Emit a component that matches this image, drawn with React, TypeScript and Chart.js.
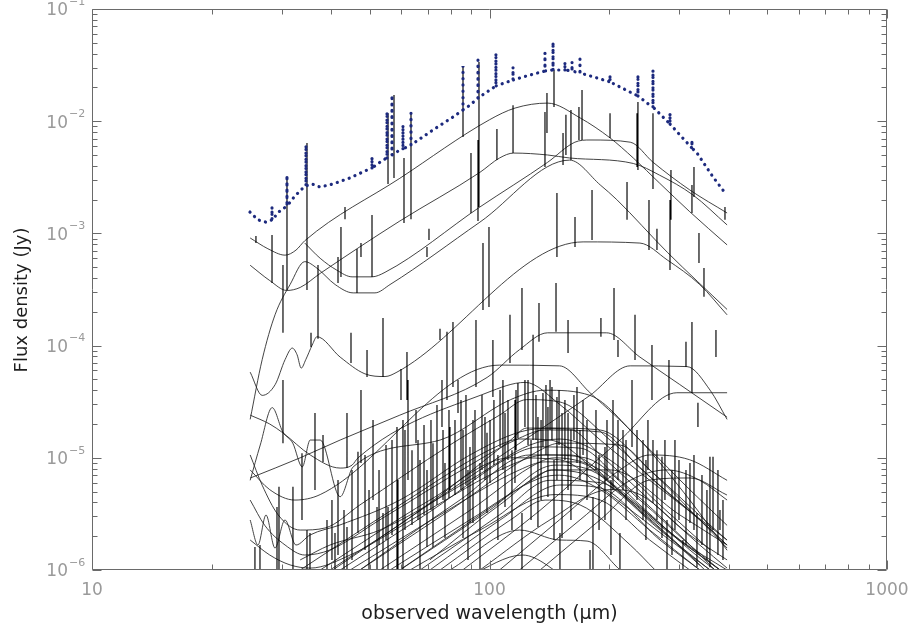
import React, { useEffect, useRef } from "react";
import { Chart, registerables } from "chart.js";

Chart.register(...registerables);

// Axis ticks
const xTickValues = [10, 100, 1000];
const xTickLabels = ["10", "100", "1000"];
const yTickValues = [1e-1, 1e-2, 1e-3, 1e-4, 1e-5, 1e-6];
const yTickExponents = ["\u22121", "\u22122", "\u22123", "\u22124", "\u22125", "\u22126"];

// Total model (dotted), wavelength in micron, flux density in Jy
const totalWave = [
  24.97, 26.15, 27.4, 28.37, 28.37, 28.37, 29.71, 30.94, 30.94, 30.94, 32.41, 33.95, 34.54, 34.54, 34.54,
  35.76, 37.46, 40.39, 44.57, 49.19, 50.63, 50.63, 50.63, 53.96, 55.23, 55.23, 55.23, 56.85, 56.85, 56.85,
  59.54, 60.58, 60.58, 60.58, 63.46, 63.46, 63.46, 72.08, 80.93, 85.77, 85.77, 85.77, 89.31, 93.55, 93.55,
  93.55, 100.3, 103.8, 103.8, 103.8, 114.6, 114.6, 114.6, 126.4, 137.9, 137.9, 137.9, 144.5, 144.5, 144.5,
  150.4, 154.8, 154.8, 154.8, 161.3, 161.3, 161.3, 168.9, 168.9, 168.9, 186.4, 201.0, 201.0, 201.0, 225.6,
  236.3, 236.3, 236.3, 249.0, 257.8, 257.8, 257.8, 273.2, 284.5, 284.5, 284.5, 301.4, 323.1, 323.1, 323.1,
  332.6, 364.9, 391.2,
];
const totalFlux = [
  1.55e-3, 1.32e-3, 1.26e-3, 1.32e-3, 1.72e-3, 1.32e-3, 1.59e-3, 1.75e-3, 3.32e-3, 1.75e-3, 2.16e-3, 2.54e-3, 2.65e-3, 6.14e-3, 2.65e-3,
  2.76e-3, 2.59e-3, 2.76e-3, 3.12e-3, 3.67e-3, 3.82e-3, 4.8e-3, 3.82e-3, 4.51e-3, 4.7e-3, 1.21e-2, 4.7e-3, 5.0e-3, 1.71e-2, 5.0e-3,
  5.54e-3, 5.66e-3, 9.25e-3, 5.66e-3, 6.14e-3, 1.18e-2, 6.14e-3, 8.35e-3, 1.09e-2, 1.26e-2, 3.1e-2, 1.26e-2, 1.39e-2, 1.61e-2, 3.51e-2,
  1.61e-2, 1.9e-2, 2.06e-2, 4.05e-2, 2.06e-2, 2.33e-2, 3.04e-2, 2.33e-2, 2.58e-2, 2.8e-2, 4.05e-2, 2.8e-2, 2.86e-2, 5.08e-2, 2.86e-2,
  2.86e-2, 2.86e-2, 3.37e-2, 2.86e-2, 2.8e-2, 3.37e-2, 2.8e-2, 2.69e-2, 3.58e-2, 2.69e-2, 2.43e-2, 2.24e-2, 2.58e-2, 2.24e-2, 1.82e-2,
  1.68e-2, 2.58e-2, 1.68e-2, 1.45e-2, 1.34e-2, 2.86e-2, 1.34e-2, 1.09e-2, 9.44e-3, 1.18e-2, 9.44e-3, 7.53e-3, 5.77e-3, 6.8e-3, 5.77e-3,
  5.21e-3, 3.19e-3, 2.3e-3,
];

// Component templates [wavelength, flux]
const sedA = [[25.0, 9.1e-4], [27.7, 7.3e-4], [30.6, 6.4e-4], [32.6, 7.1e-4], [34.3, 8.6e-4], [59.5, 3.1e-3], [100, 1.03e-2], [116, 1.31e-2], [140, 1.45e-2], [169, 1.07e-2], [201, 7.1e-3], [230, 4.7e-3], [268, 2.8e-3], [319, 1.56e-3], [396, 7.9e-4]];
const sedB = [[25.0, 5.2e-4], [28.0, 3.8e-4], [30.9, 3.1e-4], [33.4, 3.3e-4], [37.5, 4.4e-4], [59.5, 1.29e-3], [94.6, 3.5e-3], [106, 4.7e-3], [115, 5.2e-3], [140, 5.0e-3], [159, 4.7e-3], [230, 4.2e-3], [268, 3.3e-3], [325, 2.2e-3], [396, 1.19e-3]];
const sedC = [[34.3, 8.2e-4], [37.5, 6.0e-4], [41.3, 4.7e-4], [45.1, 4.1e-4], [50.6, 4.1e-4], [54.6, 4.5e-4], [94.6, 1.72e-3], [140, 4.3e-3], [164, 6.5e-3], [179, 6.8e-3], [226, 6.5e-3], [258, 4.3e-3], [319, 2.44e-3], [396, 1.52e-3]];
const sedD = [[25.0, 2.2e-5], [26.8, 7.5e-5], [28.9, 1.9e-4], [31.5, 3.5e-4], [34.3, 5.6e-4], [36.8, 4.9e-4], [40.9, 3.5e-4], [45.4, 2.95e-4], [51.5, 2.95e-4], [56.2, 3.5e-4], [94.6, 1.26e-3], [159, 4.5e-3], [190, 2.7e-3], [209, 2.0e-3], [280, 6.8e-4], [396, 2.1e-4]];
const sedE = [[25.0, 5.8e-5], [26.8, 3.6e-5], [28.9, 4.5e-5], [30.6, 7.5e-5], [31.9, 9.5e-5], [32.8, 8.3e-5], [33.6, 6.3e-5], [34.5, 7.5e-5], [35.8, 1.01e-4], [36.8, 1.2e-4], [42.1, 7.9e-5], [48.6, 5.6e-5], [54.6, 5.3e-5], [58.5, 5.8e-5], [172, 8.4e-4], [239, 8.2e-4], [280, 5.8e-4], [338, 3.5e-4], [396, 1.88e-4]];
const sedF = [[25.0, 6.6e-6], [33.4, 1.0e-5], [42.1, 1.44e-5], [59.5, 2.4e-5], [98.6, 5.2e-5], [119, 9.2e-5], [140, 1.3e-4], [197, 1.3e-4], [239, 7.9e-5], [301, 4.5e-5], [396, 2.3e-5]];
const sedG = [[25.0, 2.4e-5], [28.0, 2.0e-5], [30.2, 1.67e-5], [35.4, 1.06e-5], [42.1, 8.1e-6], [45.1, 8.6e-6], [46.7, 1.0e-5], [98.6, 3.8e-5], [123, 4.7e-5], [150, 3.0e-5], [190, 1.44e-5], [253, 6.3e-6], [338, 2.8e-6], [396, 1.67e-6]];
const sedH = [[25.0, 7.8e-6], [28.0, 5.2e-6], [32.4, 4.2e-6], [37.5, 4.7e-6], [106, 6.7e-5], [150, 6.6e-5], [179, 3.8e-5], [239, 1.44e-5], [319, 4.2e-6], [396, 1.5e-6]];
const sedI = [[35.4, 7.3e-7], [94.6, 7.8e-6], [179, 3.6e-5], [226, 6.6e-5], [314, 6.5e-5], [359, 4.0e-5], [396, 2.2e-5]];
const sedJ = [[84.3, 9.6e-7], [134, 3.4e-6], [213, 1.44e-5], [296, 3.8e-5], [396, 3.8e-5]];
const sedK = [[25.0, 6.3e-6], [26.5, 1.3e-5], [28.4, 2.8e-5], [30.2, 1.7e-5], [32.0, 1.35e-5], [33.8, 8.3e-6], [35.4, 1.44e-5], [37.5, 1.44e-5], [42.1, 4.5e-6], [45.4, 8.3e-6], [75.1, 1.44e-5], [113, 3.3e-5], [138, 4.0e-5], [179, 3.6e-5], [239, 1.44e-5], [319, 5.2e-6], [396, 2.5e-6]];
const sedM1 = [[25.0, 1.06e-5], [26.8, 5.7e-6], [29.4, 3.1e-6], [33.4, 2.27e-6], [38.6, 2.37e-6], [47.2, 3.8e-6], [79.5, 1.3e-5], [106, 2.4e-5], [124, 3.3e-5], [150, 3.15e-5], [201, 1.44e-5], [284, 4.7e-6], [396, 1.85e-6]];
const sedM2 = [[25.0, 4.2e-6], [27.2, 2.5e-6], [30.6, 1.67e-6], [34.3, 1.36e-6], [39.7, 1.51e-6], [53.0, 2.8e-6], [89.3, 8.6e-6], [119, 1.5e-5], [138, 1.77e-5], [190, 1.7e-5], [239, 8.1e-6], [338, 2.8e-6], [396, 1.67e-6]];
const sedM3 = [[25.0, 1.85e-6], [28.0, 1.36e-6], [31.5, 1.11e-6], [35.4, 1.04e-6], [44.6, 1.36e-6], [66.9, 3.1e-6], [113, 8.6e-6], [138, 1.06e-5], [174, 1.0e-5], [239, 4.2e-6], [319, 1.67e-6], [380, 1.0e-6]];
const sedW1 = [[25.0, 2.79e-6], [26.15, 1.67e-6], [27.4, 3.09e-6], [28.86, 1.57e-6], [30.58, 2.79e-6], [32.6, 1.67e-6], [35.35, 2.05e-6], [42.06, 2.52e-6], [59.54, 4.21e-6], [89.31, 1.06e-5], [119.3, 1.7e-5], [142, 1.84e-5], [189.6, 1.77e-5], [253.3, 7.79e-6], [358.6, 2.52e-6], [395.7, 1.85e-6]];
const sedL1 = [[39.7, 1.0e-6], [66.9, 3.4e-6], [113, 1.44e-5], [124, 1.84e-5], [159, 1.8e-5], [190, 1.06e-5], [253, 4.2e-6], [338, 1.67e-6], [396, 1.04e-6]];
const sedL2 = [[47.2, 1.0e-6], [79.5, 3.4e-6], [134, 1.17e-5], [150, 1.35e-5], [213, 1.3e-5], [253, 7.8e-6], [338, 2.8e-6], [396, 1.57e-6]];
const sedL3 = [[53.0, 1.0e-6], [89.3, 3.4e-6], [134, 9.2e-6], [146, 1.0e-5], [190, 7.8e-6], [239, 3.8e-6], [319, 1.51e-6], [369, 1.0e-6]];
const sedL4 = [[42.1, 1.0e-6], [70.8, 3.3e-6], [119, 1.13e-5], [134, 1.25e-5], [169, 1.22e-5], [213, 6.3e-6], [284, 2.5e-6], [369, 1.0e-6]];
const sedL5 = [[59.5, 1.0e-6], [100, 3.4e-6], [146, 8.6e-6], [179, 7.8e-6], [239, 3.4e-6], [319, 1.36e-6], [348, 1.0e-6]];
const sedL6 = [[66.9, 1.0e-6], [106, 3.1e-6], [142, 6.3e-6], [190, 6.0e-6], [253, 2.8e-6], [338, 1.1e-6]];
const sedL7 = [[33.4, 1.0e-6], [59.5, 3.8e-6], [106, 1.3e-5], [119, 1.47e-5], [142, 1.44e-5], [190, 7.0e-6], [268, 2.5e-6], [380, 1.0e-6]];
const sedL8 = [[75.1, 1.0e-6], [113, 2.8e-6], [138, 4.2e-6], [169, 3.8e-6], [226, 1.67e-6], [261, 1.0e-6]];
const sedL9 = [[89.3, 9.0e-7], [121, 1.36e-6], [159, 8.1e-7]];
const sedL10 = [[79.5, 1.0e-6], [119, 2.27e-6], [150, 1.85e-6], [176, 1.81e-6], [213, 1.0e-6]];
const sedL11 = [[44.6, 1.0e-6], [75.1, 3.1e-6], [119, 7.8e-6], [138, 9.2e-6], [164, 9.2e-6], [226, 4.2e-6], [301, 1.85e-6], [396, 9.0e-7]];
const sedL12 = [[106, 1.0e-6], [150, 2.8e-6], [213, 7.8e-6], [253, 1.06e-5], [319, 9.6e-6], [396, 6.3e-6]];
const sedL13 = [[94.6, 1.0e-6], [142, 2.8e-6], [201, 5.2e-6], [239, 4.7e-6], [319, 2.05e-6], [396, 1.23e-6]];
const sedL14 = [[37.5, 1.0e-6], [70.8, 4.2e-6], [113, 1.0e-5], [150, 9.6e-6], [201, 4.7e-6], [284, 1.85e-6], [359, 1.0e-6]];
const sedL15 = [[56.2, 1.0e-6], [89.3, 2.8e-6], [134, 6.6e-6], [150, 7.0e-6], [190, 5.2e-6], [253, 2.27e-6], [338, 1.0e-6]];
const sedL16 = [[70.8, 1.23e-6], [106, 3.8e-6], [146, 7.8e-6], [201, 7.8e-6], [301, 3.1e-6], [396, 1.67e-6]];
const sedL17 = [[119, 1.0e-6], [169, 2.8e-6], [226, 6.3e-6], [280, 7.8e-6], [338, 6.3e-6], [396, 4.2e-6]];
const sedL18 = [[63.1, 1.0e-6], [94.6, 2.27e-6], [146, 4.7e-6], [190, 4.2e-6], [253, 1.85e-6], [319, 1.0e-6]];
const sedL19 = [[47.2, 1.0e-6], [84.3, 4.21e-6], [126.4, 1.06e-5], [159.4, 1.06e-5], [212.9, 5.17e-6], [301.4, 1.85e-6], [395.7, 1.0e-6]];
const sedL20 = [[59.5, 1.0e-6], [94.6, 3.09e-6], [134, 7.03e-6], [142, 7.79e-6], [189.6, 6.34e-6], [268.5, 2.27e-6], [358.6, 1.0e-6]];
const sedL21 = [[33.4, 1.23e-6], [39.7, 1.67e-6], [53.0, 2.27e-6], [89.3, 6.34e-6], [126.4, 1.3e-5], [150.4, 1.47e-5], [201, 9.56e-6], [268.5, 3.8e-6], [358.6, 1.51e-6]];
const sedL22 = [[134, 1.0e-6], [189.6, 2.79e-6], [253.3, 6.34e-6], [319.4, 6.61e-6], [395.7, 4.66e-6]];
const sedL23 = [[70.8, 1.0e-6], [106.3, 2.79e-6], [150.4, 5.72e-6], [189.6, 5.4e-6], [268.5, 1.85e-6], [338.4, 1.0e-6]];

// Emission lines of the components: wavelength, continuum level, peak
const lineWave = [
  25.85, 28.37, 30.23, 30.94, 34.74, 35.56, 37.03, 41.58, 42.3, 43.3, 44.83, 46.41, 47.5, 49.19, 50.63, 53.96,
  55.55, 57.51, 59.89, 60.94, 62.0, 63.46, 69.62, 70.43, 75.07, 78.17, 80.93, 83.32, 85.77, 89.83, 92.47, 93.55,
  94.09, 96.3, 99.7, 102.0, 104.4, 112.6, 114.6, 120.7, 128.7, 133.2, 137.9, 139.5, 145.3, 147.0, 147.8, 153.1,
  155.7, 157.6, 160.3, 164.1, 167.9, 170.9, 181.1, 190.7, 201.0, 205.7, 210.5, 221.8, 232.3, 235.0, 236.3, 251.9,
  256.3, 257.8, 263.8, 282.8, 284.5, 286.1, 312.1, 323.1, 323.1, 326.9, 336.5, 346.4, 371.3, 391.2,
  30.23, 36.39, 38.12, 33.75, 43.8, 47.5, 50.93, 46.68, 58.51, 60.58, 62.37, 65.33, 75.94, 79.54, 83.32, 90.88,
  94.64, 98.56, 25.7, 26.46, 29.2, 29.54, 32.03, 34.74, 35.35, 39.01, 40.86, 43.8, 52.12, 53.96, 55.55, 66.86,
  69.62, 72.08, 77.27, 85.77, 89.31, 97.42, 100.3, 106.3, 109.4, 115.9, 117.9, 122.8, 128.7, 132.4, 136.3, 140.3,
  143.6, 147.8, 152.2, 157.6, 166.0, 168.9, 182.1, 195.2, 204.5, 210.5, 228.3, 243.3, 257.8, 271.6, 292.8, 319.4,
  334.5, 358.6, 365.0, 380.0, 120.7, 150.4, 179.0, 212.9, 279.6, 306.7, 332.6,
  40.15, 41.58, 43.05, 45.09, 48.62, 49.76, 52.73, 54.91, 56.85, 58.85, 61.29, 63.83, 66.09, 68.43, 71.25, 73.77,
  76.39, 79.08, 81.88, 84.78, 87.26, 88.28, 91.94, 95.74, 102.6, 105.0, 108.1, 111.3, 113.9, 116.6, 125.0, 127.2,
  130.9, 134.8, 138.7, 142.0, 145.3, 149.6, 154.8, 160.3, 163.1, 171.9, 175.9, 185.3, 188.6, 197.5, 202.1, 216.7,
  220.5, 235.0, 247.5, 250.4, 263.8, 276.3, 287.8, 299.7, 312.1, 326.9, 342.4, 352.4, 375.6, 386.7,
];
const lineBase = [
  8.22e-4, 3.62e-4, 1.3e-4, 3.13e-4, 3.13e-4, 9.73e-5, 1.15e-4, 3.62e-4, 4.09e-4, 1.34e-3, 7.01e-5, 2.95e-4, 6.16e-4, 5.26e-5, 4.09e-4, 5.26e-5,
  2.76e-3, 3.12e-3, 3.28e-5, 1.24e-3, 3.28e-5, 1.34e-3, 6.16e-4, 8.74e-4, 1.12e-4, 3.28e-5, 4.28e-5, 3.28e-5, 7.23e-3, 1.52e-3, 4.28e-5, 1.29e-3,
  1.72e-3, 2.08e-4, 2.21e-4, 3.48e-5, 4.51e-3, 7.01e-5, 5.21e-3, 9.15e-5, 3.28e-5, 1.08e-4, 3.91e-3, 7.85e-3, 1.34e-2, 1.33e-4, 6.16e-4, 4.07e-3,
  5.0e-3, 8.61e-5, 4.51e-3, 7.57e-4, 6.8e-3, 6.8e-3, 8.74e-4, 1.2e-4, 7.08e-3, 1.12e-4, 7.93e-5, 1.32e-3, 7.45e-5, 3.91e-3, 3.67e-3, 7.12e-4,
  3.28e-5, 2.49e-3, 7.12e-4, 3.28e-5, 4.72e-4, 1.32e-3, 6.46e-5, 1.52e-3, 3.78e-5, 2.11e-3, 5.45e-4, 2.72e-4, 7.93e-5, 1.32e-3,
  1.35e-5, 5.17e-6, 9.17e-6, 2.79e-6, 8.12e-6, 8.97e-6, 4.21e-6, 2.14e-6, 1.0e-6, 1.0e-6, 6.34e-6, 1.35e-5, 1.88e-5, 5.17e-6, 2.51e-5, 2.63e-6,
  1.0e-6, 3.22e-6, 1.0e-6, 1.0e-6, 1.0e-6, 1.0e-6, 1.0e-6, 1.0e-6, 1.0e-6, 1.0e-6, 1.0e-6, 1.0e-6, 1.0e-6, 1.0e-6, 1.0e-6, 1.0e-6,
  1.6e-6, 1.6e-6, 1.93e-6, 1.93e-6, 2.63e-6, 6.34e-6, 5.97e-6, 1.25e-5, 3.65e-6, 5.97e-6, 1.5e-5, 1.88e-5, 1.44e-5, 2.42e-6, 1.25e-5, 4.47e-6,
  1.44e-5, 6.34e-6, 1.93e-6, 5.17e-6, 8.97e-6, 6.34e-6, 1.0e-6, 2.79e-6, 5.17e-6, 6.34e-6, 1.25e-5, 2.79e-6, 3.96e-6, 1.93e-6, 2.27e-6, 2.63e-6,
  1.88e-5, 1.06e-6, 2.27e-6, 2.27e-6, 1.0e-6, 1.0e-6, 1.0e-6, 1.0e-6, 1.0e-6, 1.0e-6, 1.06e-6,
  1.23e-6, 1.36e-6, 1.0e-6, 1.23e-6, 1.51e-6, 1.0e-6, 1.67e-6, 1.85e-6, 2.05e-6, 1.0e-6, 2.27e-6, 2.52e-6, 2.79e-6, 3.09e-6, 3.43e-6, 3.8e-6,
  4.21e-6, 4.39e-6, 4.66e-6, 5.17e-6, 5.72e-6, 1.23e-6, 6.34e-6, 7.79e-6, 8.63e-6, 1.85e-6, 7.79e-6, 9.56e-6, 2.27e-6, 1.17e-5, 1.3e-5, 2.79e-6,
  1.44e-5, 4.21e-6, 1.06e-5, 1.77e-5, 1.85e-6, 1.3e-5, 9.56e-6, 2.79e-6, 1.44e-5, 1.06e-5, 4.21e-6, 7.79e-6, 2.27e-6, 6.34e-6, 1.36e-6, 5.17e-6,
  2.79e-6, 4.21e-6, 1.85e-6, 7.79e-6, 2.79e-6, 4.21e-6, 1.36e-6, 2.79e-6, 1.67e-6, 2.27e-6, 1.67e-6, 1.23e-6, 1.36e-6, 1.23e-6,
];
const lineTop = [
  9.48e-4, 9.68e-4, 5.23e-4, 3.19e-3, 6.4e-3, 1.3e-4, 5.23e-4, 6.16e-4, 1.14e-3, 1.72e-3, 1.3e-4, 7.27e-4, 8.22e-4, 9.15e-5, 1.46e-3, 1.76e-4,
  1.18e-2, 1.71e-2, 6.2e-5, 4.7e-3, 8.78e-5, 1.18e-2, 7.57e-4, 1.1e-3, 1.41e-4, 1.33e-4, 1.62e-4, 4.94e-5, 3.1e-2, 5.21e-3, 1.69e-4, 6.8e-3,
  3.37e-2, 8.22e-4, 1.14e-3, 1.12e-4, 8.52e-3, 1.88e-4, 1.39e-2, 3.26e-4, 1.25e-4, 2.4e-4, 1.21e-2, 1.78e-2, 2.86e-2, 3.62e-4, 2.29e-3, 7.85e-3,
  1.14e-2, 1.69e-4, 1.26e-2, 1.4e-3, 1.34e-2, 1.9e-2, 2.44e-3, 1.76e-4, 1.18e-2, 3.26e-4, 1.12e-4, 2.87e-3, 1.88e-4, 1.18e-2, 1.48e-2, 1.98e-3,
  1.01e-4, 1.18e-2, 1.1e-3, 7.45e-5, 1.98e-3, 3.67e-3, 1.08e-4, 2.7e-3, 1.62e-4, 3.91e-3, 1.01e-3, 4.92e-4, 1.38e-4, 1.72e-3,
  4.94e-5, 2.51e-5, 1.6e-5, 1.1e-5, 2.51e-5, 4.03e-5, 2.17e-5, 1.13e-5, 1.88e-5, 2.17e-5, 4.94e-5, 2.67e-5, 4.94e-5, 1.88e-5, 4.94e-5, 2.17e-5,
  8.99e-6, 1.67e-5, 1.6e-6, 1.67e-6, 3.65e-6, 5.51e-6, 5.51e-6, 2.27e-6, 2.14e-6, 2.79e-6, 2.14e-6, 2.42e-6, 3.65e-6, 3.22e-6, 3.65e-6, 9.56e-6,
  7.79e-6, 1.35e-5, 8.99e-6, 1.77e-5, 1.25e-5, 2.31e-5, 2.17e-5, 4.03e-5, 2.51e-5, 3.28e-5, 4.65e-5, 4.94e-5, 4.28e-5, 2.31e-5, 3.78e-5, 2.84e-5,
  4.28e-5, 3.48e-5, 2.51e-5, 2.51e-5, 4.28e-5, 1.77e-5, 4.47e-6, 1.25e-5, 3.28e-5, 2.17e-5, 4.94e-5, 1.44e-5, 1.44e-5, 1.02e-5, 1.44e-5, 8.99e-6,
  3.09e-5, 1.02e-5, 1.02e-5, 3.43e-6, 3.22e-6, 2.14e-6, 1.51e-6, 2.14e-6, 2.79e-6, 1.85e-6, 3.22e-6,
  4.21e-6, 6.34e-6, 3.43e-6, 7.79e-6, 1.06e-5, 5.17e-6, 7.79e-6, 1.3e-5, 1.44e-5, 6.34e-6, 1.77e-5, 1.17e-5, 1.44e-5, 1.96e-5, 2.17e-5, 2.96e-5,
  1.77e-5, 2.67e-5, 2.17e-5, 3.28e-5, 3.63e-5, 7.79e-6, 2.67e-5, 3.63e-5, 3.28e-5, 1.06e-5, 4.94e-5, 3.28e-5, 1.17e-5, 4.03e-5, 4.94e-5, 1.44e-5,
  3.63e-5, 2.17e-5, 4.46e-5, 4.94e-5, 9.56e-6, 4.03e-5, 3.28e-5, 1.77e-5, 3.63e-5, 3.28e-5, 2.17e-5, 2.67e-5, 1.06e-5, 2.17e-5, 6.34e-6, 1.77e-5,
  1.44e-5, 1.77e-5, 9.56e-6, 2.17e-5, 1.17e-5, 1.44e-5, 7.79e-6, 9.56e-6, 7.79e-6, 1.06e-5, 7.03e-6, 5.17e-6, 7.79e-6, 4.21e-6,
];

const componentSeds = [
  sedA, sedB, sedC, sedD, sedE, sedF, sedG, sedH, sedI, sedJ, sedK, sedM1, sedM2, sedM3, sedW1,
  sedL1, sedL2, sedL3, sedL4, sedL5, sedL6, sedL7, sedL8, sedL9, sedL10, sedL11, sedL12, sedL13,
  sedL14, sedL15, sedL16, sedL17, sedL18, sedL19, sedL20, sedL21, sedL22, sedL23,
];

const FONT = "'DejaVu Sans', 'Noto Sans', sans-serif";

const framePlugin = {
  id: "idlFrame",
  afterDatasetsDraw(chart: any) {
    const { ctx, chartArea: a, scales } = chart;
    const xs = scales.x;
    const ys = scales.y;
    const L = Math.round(a.left) + 0.5;
    const R = Math.round(a.right) - 0.5;
    const T = Math.round(a.top) + 0.5;
    const B = Math.round(a.bottom) - 0.5;
    ctx.save();
    ctx.strokeStyle = "#6a6a6a";
    ctx.lineWidth = 1;
    ctx.beginPath();
    ctx.rect(L, T, R - L, B - T);
    ctx.stroke();
    ctx.beginPath();
    for (let d = 10; d <= 1000; d *= 10) {
      for (let m = 1; m <= 9; m++) {
        const v = d * m;
        if (v > 1000) break;
        const len = m === 1 ? 9 : 5;
        const px = Math.round(xs.getPixelForValue(v)) + 0.5;
        ctx.moveTo(px, B);
        ctx.lineTo(px, B - len);
        ctx.moveTo(px, T);
        ctx.lineTo(px, T + len);
      }
    }
    for (let e = -6; e <= -1; e++) {
      for (let m = 1; m <= 9; m++) {
        const v = m * Math.pow(10, e);
        if (v > 0.1 * 1.0001) break;
        const len = m === 1 ? 9 : 5;
        const py = Math.round(ys.getPixelForValue(v)) + 0.5;
        ctx.moveTo(L, py);
        ctx.lineTo(L + len, py);
        ctx.moveTo(R, py);
        ctx.lineTo(R - len, py);
      }
    }
    ctx.stroke();

    // tick labels
    ctx.fillStyle = "#9a9a9a";
    ctx.font = `17px ${FONT}`;
    ctx.textAlign = "center";
    ctx.textBaseline = "middle";
    xTickValues.forEach((v, i) => {
      ctx.fillText(xTickLabels[i], xs.getPixelForValue(v), a.bottom + 21);
    });
    yTickValues.forEach((v, i) => {
      const py = ys.getPixelForValue(v);
      ctx.font = `17px ${FONT}`;
      ctx.textAlign = "right";
      ctx.textBaseline = "middle";
      ctx.fillText("10", a.left - 24, py + 2);
      ctx.font = `11px ${FONT}`;
      ctx.textAlign = "left";
      ctx.fillText(yTickExponents[i], a.left - 23, py - 7);
    });

    // axis titles
    ctx.fillStyle = "#1e1e1e";
    ctx.font = `19px ${FONT}`;
    ctx.textAlign = "center";
    ctx.textBaseline = "middle";
    ctx.fillText("observed wavelength (\u03bcm)", (a.left + a.right) / 2, a.bottom + 44);
    ctx.save();
    ctx.translate(22, 300);
    ctx.rotate(-Math.PI / 2);
    ctx.font = `18px ${FONT}`;
    ctx.fillText("Flux density (Jy)", 0, 0);
    ctx.restore();
    ctx.restore();
  },
};

export default function App() {
  const canvasRef = useRef<HTMLCanvasElement | null>(null);

  useEffect(() => {
    if (!canvasRef.current) return;
    const totalData = totalWave.map((x, i) => ({ x, y: totalFlux[i] }));
    const lineData: any[] = [];
    lineWave.forEach((x, i) => {
      lineData.push({ x, y: lineBase[i] });
      lineData.push({ x, y: lineTop[i] });
      lineData.push({ x, y: null });
    });
    const datasets: any[] = [
      {
        label: "total",
        data: totalData,
        borderColor: "#1d2a7e",
        borderWidth: 3.2,
        borderDash: [0.1, 6.2],
        borderCapStyle: "round",
        pointRadius: 0,
        fill: false,
      },
      {
        label: "lines",
        data: lineData,
        borderColor: "#000000",
        borderWidth: 1.15,
        pointRadius: 0,
        spanGaps: false,
        fill: false,
      },
      ...componentSeds.map((s, i) => ({
        label: "sed" + i,
        data: s.map(([x, y]) => ({ x, y })),
        borderColor: "rgba(35,35,35,0.85)",
        borderWidth: 1,
        pointRadius: 0,
        cubicInterpolationMode: "monotone",
        fill: false,
      })),
    ];
    const chart = new Chart(canvasRef.current, {
      type: "line",
      data: { datasets },
      options: {
        animation: false,
        responsive: false,
        maintainAspectRatio: false,
        events: [],
        layout: { padding: { left: 92, right: 22, top: 9, bottom: 58 } },
        plugins: { legend: { display: false }, tooltip: { enabled: false } },
        scales: {
          x: { type: "logarithmic", min: 10, max: 1000, display: false },
          y: { type: "logarithmic", min: 1e-6, max: 0.1, display: false },
        },
      },
      plugins: [framePlugin],
    } as any);
    return () => chart.destroy();
  }, []);

  return (
    <div style={{ position: "fixed", left: 0, top: 0, width: 909, height: 628, background: "#fff" }}>
      <canvas ref={canvasRef} width={909} height={628} style={{ display: "block", width: 909, height: 628 }} />
    </div>
  );
}
